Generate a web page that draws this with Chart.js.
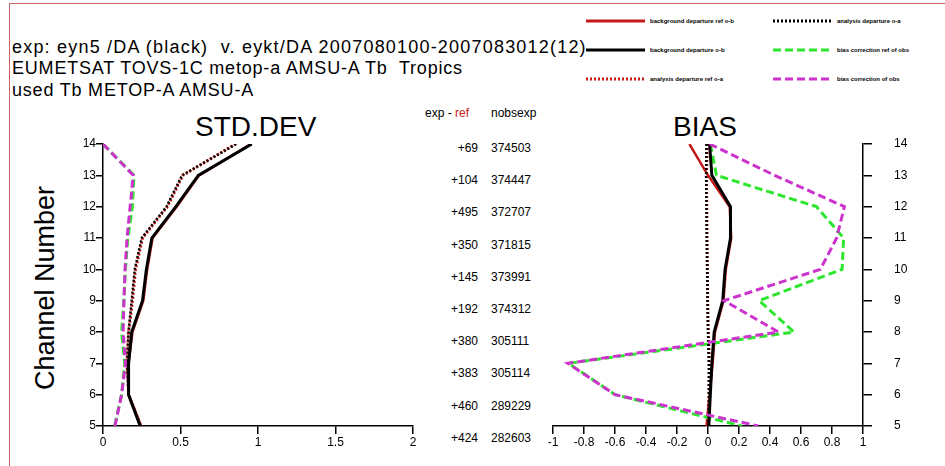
<!DOCTYPE html>
<html>
<head>
<meta charset="utf-8">
<script src="https://cdn.jsdelivr.net/npm/chart.js@4/dist/chart.umd.min.js"></script>
<style>
  html, body { margin: 0; padding: 0; background: #fff; }
  body { width: 945px; height: 466px; position: relative; overflow: hidden; font-family: "Liberation Sans", Arial, sans-serif; }
  .frame { position: absolute; left: 9px; top: 3px; width: 960px; height: 500px; border-left: 1.5px solid #c86464; border-top: 1.5px solid #c86464; }
  .hdr { position: absolute; left: 12px; font-size: 18px; line-height: 21px; color: #000; white-space: nowrap; }
  .ptitle { position: absolute; font-size: 28px; line-height: 30px; color: #000; }
  .ylab { position: absolute; left: 45px; top: 288px; font-size: 27px; transform: translate(-50%, -50%) rotate(-90deg); white-space: nowrap; }
  .col { position: absolute; font-size: 12px; line-height: 14px; white-space: nowrap; }
  .leg { position: absolute; font-size: 6px; font-weight: bold; white-space: nowrap; line-height: 8px; }
  canvas { position: absolute; }
</style>
</head>
<body>
<div class="frame"></div>
<div class="hdr" style="top:37px;letter-spacing:1.2px">exp: eyn5 /DA (black)&nbsp; v. eykt/DA 2007080100-2007083012(12)</div>
<div class="hdr" style="top:58px;letter-spacing:0.8px">EUMETSAT TOVS-1C metop-a AMSU-A Tb&nbsp; Tropics</div>
<div class="hdr" style="top:80px;letter-spacing:0.8px">used Tb METOP-A AMSU-A</div>

<div class="ptitle" style="left:195px;top:112px">STD.DEV</div>
<div class="ptitle" style="left:673px;top:112px">BIAS</div>
<div class="ylab">Channel Number</div>

<div id="legend"></div>
<div id="cols"></div>

<canvas id="stdChart" width="400" height="366" style="left:40px;top:100px"></canvas>
<canvas id="biasChart" width="425" height="366" style="left:520px;top:100px"></canvas>

<script>
// channels from top to bottom
const channels = [14, 13, 12, 11, 10, 9, 8, 7, 6, 5];
const expMinusRef = ["+69", "+104", "+495", "+350", "+145", "+192", "+380", "+383", "+460", "+424"];
const nobsExp = ["374503", "374447", "372707", "371815", "373991", "374312", "305111", "305114", "289229", "282603"];

// standard deviation (K)
const stdBgRef = [0.955, 0.62, 0.475, 0.32, 0.285, 0.26, 0.19, 0.165, 0.165, 0.245];
const stdBgExp = [0.96, 0.615, 0.47, 0.315, 0.28, 0.255, 0.185, 0.165, 0.165, 0.24];
const stdAnRef = [0.855, 0.515, 0.415, 0.255, 0.21, 0.19, 0.165, 0.155, 0.165, 0.245];
const stdAnExp = [0.86, 0.51, 0.41, 0.25, 0.205, 0.185, 0.165, 0.155, 0.165, 0.24];
const stdBcRef = [0.0, 0.2, 0.19, 0.16, 0.145, 0.135, 0.12, 0.14, 0.12, 0.075];
const stdBcExp = [0.0, 0.195, 0.175, 0.155, 0.142, 0.135, 0.13, 0.145, 0.12, 0.077];

// mean (K)
const biasBgRef = [-0.12, 0.0, 0.14, 0.15, 0.115, 0.1, 0.045, 0.03, 0.01, -0.01];
const biasBgExp = [0.01, 0.025, 0.145, 0.145, 0.11, 0.095, 0.04, 0.025, 0.015, 0.005];
const biasAnRef = [-0.005, -0.01, -0.008, -0.006, -0.004, -0.002, 0.002, 0.01, 0.008, 0.005];
const biasAnExp = [-0.01, -0.012, -0.01, -0.008, -0.005, -0.003, 0.0, 0.005, 0.005, 0.005];
const biasBcRef = [0.015, 0.055, 0.70, 0.875, 0.865, 0.33, 0.555, -0.9, -0.6, 0.22];
const biasBcExp = [0.01, 0.43, 0.88, 0.83, 0.725, 0.103, 0.455, -0.905, -0.6, 0.325];

const RED = "#c41a1a", BLACK = "#000", GREEN = "#2ee62e", MAGENTA = "#cc33cc";

const seriesStyle = [
  { name: "background departure ref o-b", color: RED, width: 2.5, dash: [], order: 5 },
  { name: "background departure o-b", color: BLACK, width: 3, dash: [], order: 2 },
  { name: "analysis departure ref o-a", color: RED, width: 3, dash: [2, 2], order: 6 },
  { name: "analysis departure o-a", color: BLACK, width: 2.5, dash: [2, 2], order: 3 },
  { name: "bias correction ref of obs", color: GREEN, width: 3, dash: [8, 4], order: 4 },
  { name: "bias correction of obs", color: MAGENTA, width: 3, dash: [8, 4], order: 1 }
];

function toPoints(vals) {
  return vals.map((v, i) => ({ x: v, y: channels[i] }));
}

function makeDatasets(list) {
  return list.map((vals, i) => {
    const s = seriesStyle[i];
    return {
      label: s.name,
      data: toPoints(vals),
      showLine: true,
      borderColor: s.color,
      backgroundColor: s.color,
      borderWidth: s.width,
      borderDash: s.dash,
      pointRadius: 0,
      tension: 0,
      order: s.order
    };
  });
}

const tickFont = { family: "Liberation Sans", size: 12 };

function xAxis(min, max, step) {
  return {
    type: "linear", min: min, max: max,
    border: { display: true, color: "#000", width: 1.5 },
    grid: { drawOnChartArea: false, drawTicks: true, tickLength: 8, color: "#000", lineWidth: 1.5 },
    ticks: { stepSize: step, color: "#000", font: tickFont, padding: 1, maxRotation: 0,
      callback: v => String(Math.round(v * 10) / 10) },
    afterFit: s => { s.height = 40; }
  };
}

function yAxis(pos, width, pad) {
  return {
    type: "linear", position: pos, min: 5, max: 14,
    border: { display: true, color: "#000", width: 1.5 },
    grid: { drawOnChartArea: false, drawTicks: true, tickLength: pos === "left" ? 7 : 9, color: "#000", lineWidth: 1.5 },
    ticks: { stepSize: 1, color: "#000", font: tickFont, padding: pad },
    afterFit: s => { s.width = width; }
  };
}

const baseOpts = {
  responsive: false,
  animation: false,
  plugins: { legend: { display: false }, tooltip: { enabled: false } }
};

new Chart(document.getElementById("stdChart"), {
  type: "scatter",
  data: { datasets: makeDatasets([stdBgRef, stdBgExp, stdAnRef, stdAnExp, stdBcRef, stdBcExp]) },
  options: Object.assign({}, baseOpts, {
    layout: { padding: { left: 0, right: 27, top: 44, bottom: 0 } },
    scales: { x: xAxis(0, 2, 0.5), y: yAxis("left", 63, 0) }
  })
});

new Chart(document.getElementById("biasChart"), {
  type: "scatter",
  data: { datasets: makeDatasets([biasBgRef, biasBgExp, biasAnRef, biasAnExp, biasBcRef, biasBcExp]) },
  options: Object.assign({}, baseOpts, {
    layout: { padding: { left: 33, right: 0, top: 44, bottom: 0 } },
    scales: { x: xAxis(-1, 1, 0.2), y: yAxis("right", 82, 22) }
  })
});

// exp-ref and nobs columns between the two panels
const cols = document.getElementById("cols");
let html = '<div class="col" style="left:425px;top:106px">exp - <span style="color:#c41a1a">ref</span></div>' +
           '<div class="col" style="left:491px;top:106px">nobsexp</div>';
channels.forEach((ch, i) => {
  const top = 141 + i * 32.2;
  html += '<div class="col" style="left:430px;width:48px;text-align:right;top:' + top + 'px">' + expMinusRef[i] + '</div>';
  html += '<div class="col" style="left:491px;top:' + top + 'px">' + nobsExp[i] + '</div>';
});
cols.innerHTML = html;

// legend in the upper right
const legPos = [
  { x: 586, y: 21 }, { x: 586, y: 50 }, { x: 586, y: 79 },
  { x: 773, y: 21 }, { x: 773, y: 50 }, { x: 773, y: 79 }
];
let lh = "";
seriesStyle.forEach((s, k) => {
  const p = legPos[k];
  const w = 59;
  const dash = s.dash.length ? ' stroke-dasharray="' + s.dash.join(",") + '"' : "";
  lh += '<svg style="position:absolute;left:' + p.x + 'px;top:' + (p.y - 3) + 'px" width="' + w + '" height="6">' +
        '<line x1="0" y1="3" x2="' + w + '" y2="3" stroke="' + s.color + '" stroke-width="3"' + dash + '/></svg>';
  lh += '<div class="leg" style="left:' + (p.x + w + 5) + 'px;top:' + (p.y - 4) + 'px">' + s.name + '</div>';
});
document.getElementById("legend").innerHTML = lh;
</script>
</body>
</html>
